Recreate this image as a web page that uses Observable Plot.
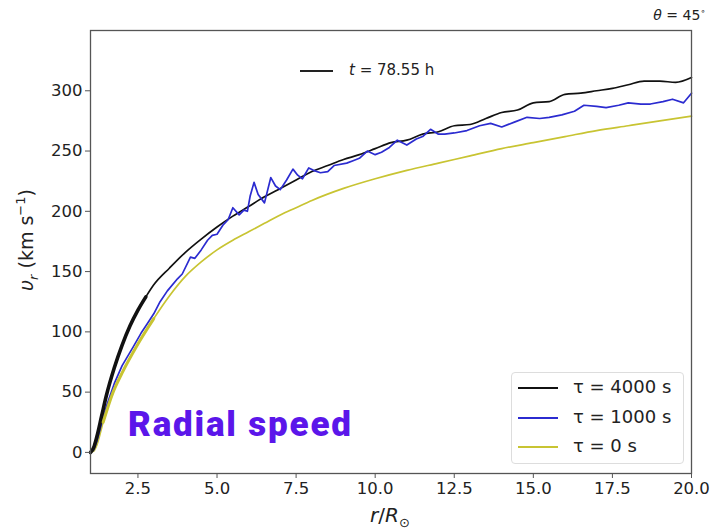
<!DOCTYPE html>
<html>
<head>
<meta charset="utf-8">
<script src="https://cdn.jsdelivr.net/npm/d3@7"></script>
<script src="https://cdn.jsdelivr.net/npm/@observablehq/plot@0.6"></script>
<style>
  body { margin:0; background:#fff; }
  #wrap { position:relative; width:712px; height:532px; font-family:"DejaVu Sans", sans-serif; color:#222; overflow:hidden; }
  .ov { position:absolute; white-space:nowrap; }
  #legend { position:absolute; left:511px; top:372px; width:173px; height:92px; border:1px solid #ddd; border-radius:4px; background:rgba(255,255,255,0.85); box-sizing:border-box; }
  .lg { position:absolute; left:6px; height:0; width:40px; }
  .lt { position:absolute; left:61px; font-size:18px; line-height:18px; }
</style>
</head>
<body>
<div id="wrap"></div>
<script>
const xTicks = [2.5, 5.0, 7.5, 10.0, 12.5, 15.0, 17.5, 20.0];
const yTicks = [0, 50, 100, 150, 200, 250, 300];
const seriesNames = ["τ = 4000 s", "τ = 1000 s", "τ = 0 s"];
const seriesColors = ["#111111", "#2b2bd0", "#c8c432"];

const rBlack = [1.0,1.1,1.2,1.35,1.5,1.75,2.0,2.25,2.5,2.75,3.0,3.5,4.0,4.5,5.0,5.5,6.0,6.5,7.0,7.5,8.0,8.5,9.0,9.5,10.0,10.5,11.0,11.5,12.0,12.5,13.0,13.5,14.0,14.5,15.0,15.5,16.0,16.5,17.0,17.5,18.0,18.5,19.0,19.5,20.0];
const vBlack = [0,4,13,30,47,70,89,105,118,129,139,153,166,177,187,196,204,212,219,226,233,238,243,247,252,257,259,264,266,271,272,277,282,284,290,291,297,298,300,302,305,308,308,307,311];

const rBlue = [1.0,1.1,1.2,1.35,1.5,1.75,2.0,2.36,2.6,2.8,3.0,3.2,3.43,3.75,3.9,4.16,4.3,4.5,4.7,4.85,5.0,5.2,5.35,5.5,5.7,5.85,5.96,6.05,6.17,6.3,6.5,6.7,6.85,7.0,7.2,7.4,7.55,7.7,7.9,8.05,8.27,8.5,8.7,9.1,9.3,9.5,9.75,10.0,10.2,10.45,10.7,11.0,11.3,11.5,11.75,12.0,12.2,12.5,12.9,13.3,13.65,14.0,14.4,14.8,15.2,15.5,15.9,16.3,16.6,17.0,17.3,17.7,18.0,18.4,18.7,19.1,19.4,19.75,20.0];
const vBlue = [0,2,9,24,38,57,72,88,99,107,115,125,134,144,148,162,161,168,176,180,181,189,193,203,197,201,200,213,224,214,207,228,221,218,226,235,230,227,236,234,232,233,238,240,242,244,250,247,249,253,259,255,260,262,268,264,264,265,267,271,273,270,274,278,277,278,280,283,288,287,286,288,290,289,289,291,293,290,298];

const rYellow = [1.0,1.1,1.2,1.4,1.7,2.0,2.5,3.0,3.5,4.0,4.5,5.0,5.5,6.0,6.5,7.0,7.5,8.0,9.0,10.0,11.0,12.0,13.0,14.0,15.0,16.0,17.0,18.0,19.0,20.0];
const vYellow = [0,1,6,25,49,66,90,111,130,146,158,168,176,183,190,197,203,209,219,227,234,240,246,252,257,262,267,271,275,279];

const rs = [rBlack, rBlue, rYellow];
const vs = [vBlack, vBlue, vYellow];
const data = [];
rs.forEach((rr, i) => rr.forEach((r, j) => data.push({r, v: vs[i][j], s: seriesNames[i]})));

const color = {domain: seriesNames, range: seriesColors};
const smooth = data.filter(d => d.s !== seriesNames[1]);
const wiggly = data.filter(d => d.s === seriesNames[1]);

const plot = Plot.plot({
  width: 712, height: 532,
  marginLeft: 90, marginRight: 21, marginTop: 30, marginBottom: 59,
  style: {fontFamily: "DejaVu Sans, sans-serif", fontSize: "16.5px", color: "#222", background: "transparent"},
  x: {domain: [1, 20], label: null},
  y: {domain: [-17.5, 350], label: null},
  color,
  marks: [
    Plot.line(smooth, {x: "r", y: "v", z: "s", stroke: "s", strokeWidth: 1.7, curve: "monotone-x"}),
    Plot.line(wiggly, {x: "r", y: "v", z: "s", stroke: "s", strokeWidth: 1.7, curve: "linear"}),
    Plot.line(data.filter(d => d.s === seriesNames[0] && d.r <= 2.9), {x: "r", y: "v", stroke: "s", strokeWidth: 3.6, curve: "monotone-x"}),
    Plot.line(data.filter(d => d.s === seriesNames[2] && d.r >= 1.3 && d.r <= 3.2), {x: "r", y: "v", stroke: "s", strokeWidth: 3, curve: "monotone-x"}),
    Plot.frame({stroke: "#555", strokeWidth: 1.3}),
    Plot.axisX({ticks: xTicks, tickFormat: d => d.toFixed(1), tickSize: 5, tickPadding: 4, stroke: "#555"}),
    Plot.axisY({ticks: yTicks, tickSize: 5, tickPadding: 3, stroke: "#555"})
  ]
});

const wrap = document.getElementById("wrap");
wrap.appendChild(plot);

function ov(html, css) {
  const d = document.createElement("div");
  d.className = "ov";
  d.innerHTML = html;
  Object.assign(d.style, css);
  wrap.appendChild(d);
  return d;
}

// theta label
ov('<i>θ</i> = 45<sup style="font-size:9px">∘</sup>', {right: "6px", top: "6px", fontSize: "14px"});
// time label
ov('', {left: "300px", top: "70px", width: "33px", height: "0", borderTop: "2px solid #222"});
ov('<i>t</i> = 78.55 h', {left: "349px", top: "61px", fontSize: "15px"});
// y label
ov('<i>υ</i><sub style="font-size:13px"><i>r</i></sub> (km s<sup style="font-size:13px">−1</sup>)',
   {left: "27px", top: "240px", fontSize: "19px", transform: "translate(-50%,-50%) rotate(-90deg)"});
// x label
ov('<i>r</i>/<i>R</i><sub style="font-size:13px">⊙</sub>', {left: "390px", top: "503px", fontSize: "20px", transform: "translateX(-50%)"});
// annotation
ov('Radial speed', {left: "128px", top: "404px", fontSize: "35px", fontWeight: "900", letterSpacing: "1.8px", fontFamily: "Roboto, sans-serif", color: "#5b16ea"});

// legend
const lg = document.createElement("div");
lg.id = "legend";
seriesNames.forEach((n, i) => {
  const top = [14, 44, 73][i];
  const l = document.createElement("div");
  l.className = "lg";
  l.style.top = top + "px";
  l.style.borderTop = "2px solid " + seriesColors[i];
  lg.appendChild(l);
  const t = document.createElement("div");
  t.className = "lt";
  t.style.top = (top - 9) + "px";
  t.textContent = n;
  lg.appendChild(t);
});
wrap.appendChild(lg);
</script>
</body>
</html>
